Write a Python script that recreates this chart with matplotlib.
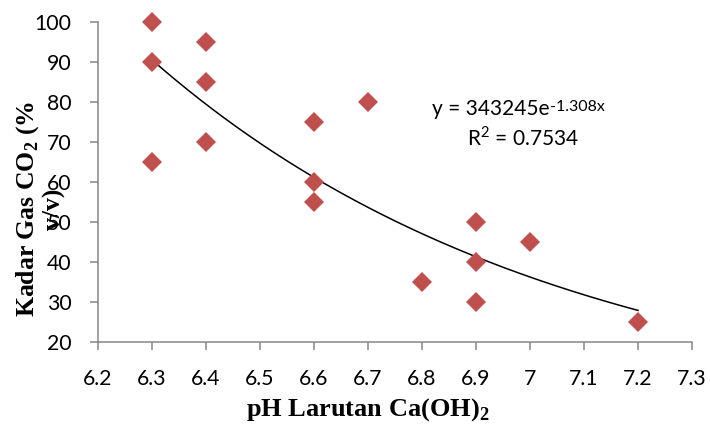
import matplotlib
matplotlib.use("Agg")
import matplotlib.pyplot as plt
import numpy as np

# Data
ph = [6.3, 6.3, 6.3, 6.4, 6.4, 6.4, 6.6, 6.6, 6.6, 6.7, 6.8, 6.9, 6.9, 6.9, 7.0, 7.2]
co2 = [100, 90, 65, 95, 85, 70, 75, 60, 55, 80, 35, 50, 40, 30, 45, 25]
fit_a = 343245
fit_b = -1.308
r2 = 0.7534
xticks = [6.2, 6.3, 6.4, 6.5, 6.6, 6.7, 6.8, 6.9, 7.0, 7.1, 7.2, 7.3]
xticklabels = ['6.2', '6.3', '6.4', '6.5', '6.6', '6.7', '6.8', '6.9', '7', '7.1', '7.2', '7.3']
yticks = [20, 30, 40, 50, 60, 70, 80, 90, 100]

W, H = 710, 426
fig = plt.figure(figsize=(W / 100, H / 100), dpi=100)
ax = fig.add_axes([98 / W, 1 - 342 / H, (692 - 98) / W, (342 - 22) / H])

tick_font = 'Lato'
grey = '#868686'

# trendline
xs = np.linspace(min(ph), max(ph), 200)
ax.plot(xs, fit_a * np.exp(fit_b * xs), color='black', lw=1.1, zorder=2)
ax.plot(ph, co2, linestyle='none', marker='D', ms=9.8, color='#C0504D',
        markeredgewidth=0, zorder=3, clip_on=False)

ax.set_xlim(6.2, 7.3)
ax.set_ylim(20, 100)
ax.set_xticks(xticks)
ax.set_xticklabels(xticklabels)
ax.set_yticks(yticks)
for s in ['top', 'right']:
    ax.spines[s].set_visible(False)
for s in ['left', 'bottom']:
    ax.spines[s].set_color(grey)
    ax.spines[s].set_linewidth(1.1)
ax.tick_params(axis='x', direction='out', length=5.5, width=1.1, color=grey, pad=14)
ax.tick_params(axis='y', direction='out', length=6, width=1.1, color=grey, pad=13)
for lab in ax.get_xticklabels() + ax.get_yticklabels():
    lab.set_fontfamily(tick_font)
    lab.set_fontsize(15.3)
    lab.set_color('black')

# axis titles
fig.text(368 / W, 1 - 416 / H, 'pH Larutan Ca(OH)$_\\mathregular{2}$',
         ha='center', va='baseline', fontsize=19, fontweight='bold',
         family='Liberation Serif')
fig.text(40 / W, 1 - 209 / H, 'Kadar Gas CO$_\\mathregular{2}$ (%\nv/v)',
         ha='center', va='center', rotation=90, fontsize=18.5, fontweight='bold',
         family='Liberation Serif', multialignment='center', linespacing=1.1)

# equation
t1 = fig.text(432 / W, 1 - 115 / H, 'y = %de' % fit_a, ha='left', va='baseline',
              fontsize=15, family=tick_font)
ax.annotate('-1.308x', xy=(1, 0), xycoords=t1, xytext=(0.3, 5.5),
            textcoords='offset points', ha='left', va='baseline', fontsize=11.5,
            family=tick_font)
fig.text(523 / W, 1 - 146 / H, 'R$^\\mathregular{2}$ = %.4f' % r2, ha='center',
         va='baseline', fontsize=15, family=tick_font)

fig.savefig('out.png', dpi=100)
